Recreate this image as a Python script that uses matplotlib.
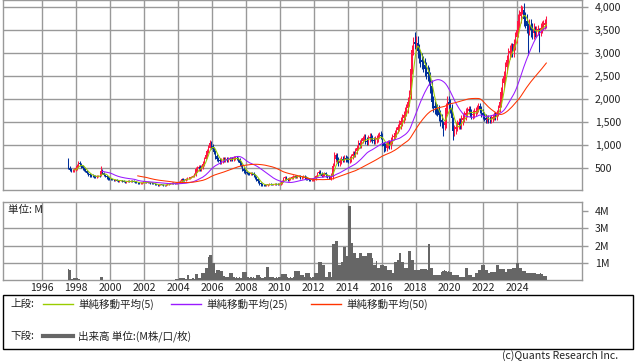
import numpy as np
import pandas as pd
import matplotlib
matplotlib.use('Agg')
import matplotlib.pyplot as plt
from matplotlib.patches import Rectangle
from matplotlib.lines import Line2D
from matplotlib.ticker import FixedLocator, FuncFormatter

plt.rcParams['font.family'] = ['Noto Sans CJK JP', 'DejaVu Sans']

# monthly data, Jul 1997 .. Sep 2025
start_month = '1997-07'
first_open = 690
closes = [
    510, 470, 440, 450, 470, 500,                                    # 1997 (Jul-)
    560, 620, 590, 540, 500, 470, 440, 400, 370, 350, 340, 330,      # 1998
    320, 310, 330, 340, 330, 450, 400, 360, 330, 300, 280, 270,      # 1999
    260, 250, 240, 250, 230, 220, 230, 240, 220, 210, 200, 210,      # 2000
    220, 210, 230, 220, 210, 200, 190, 180, 170, 180, 190, 200,      # 2001
    200, 190, 200, 190, 180, 170, 160, 150, 140, 135, 140, 145,      # 2002
    140, 135, 130, 140, 150, 160, 170, 180, 175, 170, 180, 190,      # 2003
    200, 220, 260, 250, 240, 270, 280, 290, 300, 320, 340, 380,      # 2004
    480, 500, 520, 490, 530, 600, 700, 780, 880, 950, 1050, 980,     # 2005
    920, 850, 760, 700, 680, 650, 670, 690, 680, 700, 680, 700,      # 2006
    690, 710, 700, 720, 730, 710, 680, 620, 560, 480, 440, 420,      # 2007
    400, 390, 380, 400, 380, 350, 300, 260, 220, 170, 150, 140,      # 2008
    135, 130, 140, 150, 160, 150, 145, 150, 160, 155, 150, 160,      # 2009
    180, 230, 280, 300, 260, 250, 280, 290, 300, 320, 330, 310,      # 2010
    330, 340, 300, 310, 320, 300, 280, 260, 250, 240, 250, 260,      # 2011
    280, 330, 400, 430, 380, 340, 360, 390, 350, 320, 300, 310,      # 2012
    330, 560, 700, 780, 680, 620, 660, 710, 690, 720, 700, 690,      # 2013
    680, 700, 760, 820, 800, 880, 950, 1050, 1000, 1100, 1150, 1180,  # 2014
    1100, 1080, 1150, 1190, 1160, 1120, 1100, 1130, 1150, 1200, 1230, 1200,  # 2015
    1050, 980, 950, 1020, 1050, 1000, 1100, 1180, 1200, 1260, 1330, 1400,    # 2016
    1450, 1520, 1590, 1650, 1730, 1800, 1950, 2100, 2650, 3070, 3250, 3200,  # 2017
    3220, 3050, 2930, 2850, 2800, 2750, 2650, 2600, 2550, 2450, 2280, 1950,  # 2018
    1850, 1800, 1780, 1760, 1650, 1550, 1500, 1450, 1500, 1800, 1950, 1900,  # 2019
    1800, 1600, 1300, 1350, 1400, 1450, 1500, 1450, 1550, 1600, 1650, 1700,  # 2020
    1750, 1780, 1700, 1650, 1680, 1720, 1750, 1800, 1850, 1780, 1700, 1650,  # 2021
    1600, 1550, 1580, 1560, 1550, 1580, 1620, 1650, 1620, 1700, 1800, 1950,  # 2022
    2150, 2350, 2500, 2700, 2850, 3000, 3050, 3100, 3050, 3200, 3350, 3500,  # 2023
    3700, 3800, 3900, 3950, 3750, 3700, 3600, 3550, 3600, 3500, 3450, 3500,  # 2024
    3450, 3500, 3520, 3480, 3550, 3600, 3620, 3650, 3700,                    # 2025 (-Sep)
]
# volume in millions
volumes = [
    0.66, 0.6, 0.08, 0.08, 0.12, 0.12,
    0.12, 0.1, 0.1, 0.02, 0.01, 0.01, 0.01, 0.01, 0.01, 0.01, 0.01, 0.01,
    0.01, 0.01, 0.01, 0.01, 0.01, 0.19, 0.19, 0.01, 0.01, 0.01, 0.01, 0.01,
    0.01, 0.01, 0.01, 0.01, 0.01, 0.01, 0.01, 0.01, 0.01, 0.01, 0.01, 0.01,
    0.01, 0.01, 0.01, 0.01, 0.01, 0.01, 0.01, 0.01, 0.01, 0.01, 0.01, 0.01,
    0.01, 0.01, 0.01, 0.01, 0.01, 0.01, 0.01, 0.01, 0.01, 0.01, 0.01, 0.01,
    0.01, 0.01, 0.01, 0.01, 0.01, 0.01, 0.01, 0.01, 0.01, 0.01, 0.05, 0.05,
    0.05, 0.13, 0.13, 0.13, 0.13, 0.1, 0.29, 0.29, 0.1, 0.1, 0.15, 0.1,
    0.37, 0.37, 0.12, 0.12, 0.4, 0.4, 0.4, 0.7, 0.7, 1.34, 1.47, 1.47,
    0.99, 0.99, 0.4, 0.6, 0.6, 0.6, 0.55, 0.55, 0.25, 0.2, 0.2, 0.2,
    0.45, 0.45, 0.45, 0.2, 0.15, 0.2, 0.15, 0.2, 0.15, 0.5, 0.5, 0.5,
    0.5, 0.2, 0.15, 0.2, 0.15, 0.2, 0.15, 0.3, 0.3, 0.3, 0.2, 0.15,
    0.15, 0.2, 0.75, 0.75, 0.2, 0.2, 0.2, 0.2, 0.15, 0.2, 0.15, 0.2,
    0.2, 0.37, 0.37, 0.37, 0.37, 0.2, 0.15, 0.2, 0.15, 0.2, 0.55, 0.55,
    0.55, 0.55, 0.3, 0.3, 0.3, 0.2, 0.4, 0.4, 0.4, 0.2, 0.15, 0.2,
    0.4, 0.4, 0.4, 1.05, 1.05, 1.05, 0.9, 0.9, 0.2, 0.2, 0.5, 0.5,
    0.2, 2.09, 2.09, 2.28, 2.28, 0.9, 0.9, 1.08, 1.08, 1.95, 1.95, 1.38,
    4.28, 4.28, 2.15, 2.15, 1.57, 1.57, 1.28, 1.28, 1.57, 1.57, 1.38, 1.38,
    1.38, 1.38, 1.57, 1.57, 1.57, 1.28, 0.9, 0.9, 1.12, 0.7, 0.7, 0.9,
    0.9, 0.9, 0.8, 0.8, 0.6, 0.6, 0.6, 0.4, 0.4, 1.08, 1.08, 1.18,
    1.57, 1.57, 1.08, 1.08, 0.7, 0.7, 0.7, 1.7, 1.7, 1.18, 1.18, 0.6,
    0.6, 0.6, 0.6, 0.66, 0.66, 0.66, 0.66, 0.66, 0.6, 2.1, 0.7, 0.7,
    0.3, 0.3, 0.3, 0.3, 0.3, 0.3, 0.5, 0.56, 0.6, 0.56, 0.5, 0.56,
    0.5, 0.5, 0.3, 0.3, 0.3, 0.3, 0.3, 0.2, 0.2, 0.2, 0.2, 0.7,
    0.7, 0.3, 0.3, 0.3, 0.2, 0.2, 0.4, 0.4, 0.6, 0.6, 0.86, 0.86,
    0.86, 0.6, 0.6, 0.4, 0.4, 0.5, 0.5, 0.5, 0.5, 0.9, 0.9, 0.66,
    0.66, 0.66, 0.66, 0.5, 0.5, 0.66, 0.66, 0.66, 0.7, 0.7, 0.7, 1.0,
    1.0, 0.7, 0.7, 0.55, 0.55, 0.55, 0.45, 0.45, 0.45, 0.4, 0.4, 0.4,
    0.4, 0.35, 0.35, 0.35, 0.4, 0.35, 0.25, 0.25, 0.25,
]
# typical shadow length beyond the candle body, per calendar year 1997..2025
shadow_by_year = [30, 30, 25, 15, 15, 12, 12, 20, 50, 50, 40, 30, 15, 25, 25,
                  30, 60, 60, 70, 70, 100, 150, 120, 100, 80, 70, 120, 150, 100]
# clearly visible long wicks: month -> (low, high)
wicks = {
    '1999-06': (330, 557),
    '2005-08': (700, 860),
    '2005-11': (950, 1115),
    '2013-03': (560, 860),
    '2015-11': (1150, 1296),
    '2016-02': (860, 1080),
    '2017-12': (3100, 3470),
    '2019-08': (1200, 1520),
    '2020-03': (1115, 1620),
    '2024-04': (3850, 4028),
    '2024-08': (2963, 3650),
    '2025-04': (3035, 3560),
}
year_ticks = list(range(1996, 2025, 2))
price_ticks = [500, 1000, 1500, 2000, 2500, 3000, 3500, 4000]
vol_ticks = [1, 2, 3, 4]
vol_grid = [1, 2, 3]

months = pd.period_range(start_month, periods=len(closes), freq='M')
t = np.asarray(months.year + (months.month - 0.5) / 12.0, dtype=float)
close = pd.Series(closes, dtype=float)
opens = np.array([first_open] + closes[:-1], dtype=float)
up = close.values >= opens
shadow = np.array([shadow_by_year[y - 1997] for y in months.year], dtype=float)
body_lo = np.minimum(opens, close.values)
body_hi = np.maximum(opens, close.values)
lows = body_lo - shadow
highs = body_hi + shadow
for key, (lo, hi) in wicks.items():
    i = months.get_loc(pd.Period(key, freq='M'))
    lows[i], highs[i] = lo, hi

RED = '#ff1744'
BLUE = '#00309a'
GRID = '#999999'
W, H = 638, 362
XLIM = (1993.70, 2027.83)
PRICE_LIM = (21.7, 4152)
VOL_LIM = (0, 4.54)

fig = plt.figure(figsize=(W / 100, H / 100), dpi=100)


def fig_rect(x0, y0, x1, y1):
    return [x0 / W, 1 - y1 / H, (x1 - x0) / W, (y1 - y0) / H]


ax = fig.add_axes(fig_rect(3.3, 0.3, 582.3, 190.3))
axv = fig.add_axes(fig_rect(3.3, 201.7, 582.3, 280.3))

# grid as line collections behind the data
ax.hlines(price_ticks, XLIM[0], XLIM[1], colors=GRID, linewidth=1.0, zorder=2)
ax.vlines(year_ticks, PRICE_LIM[0], PRICE_LIM[1], colors=GRID, linewidth=1.0, zorder=2)
axv.hlines(vol_grid, XLIM[0], XLIM[1], colors=GRID, linewidth=1.0, zorder=2)
axv.vlines(year_ticks, VOL_LIM[0], VOL_LIM[1], colors=GRID, linewidth=1.0, zorder=2)

# candles
colors = np.where(up, RED, BLUE).tolist()
ax.vlines(t, lows, highs, colors=colors, linewidth=0.75, zorder=3)
ax.bar(t, np.maximum(body_hi - body_lo, 10), bottom=body_lo, width=0.075,
       color=colors, linewidth=0, zorder=3)

# moving averages
ma_styles = [(5, '#99cc00'), (25, '#9a1aff'), (50, '#ff3300')]
for n, c in ma_styles:
    ax.plot(t, close.rolling(n).mean(), color=c, linewidth=0.75, zorder=4)

ax.set_ylim(*PRICE_LIM)
ax.yaxis.set_major_locator(FixedLocator(price_ticks))
ax.yaxis.set_major_formatter(FuncFormatter(lambda v, p: f'{v:,.0f}'))

# volume
axv.bar(t, volumes, width=1 / 12, color='#666666', linewidth=0, zorder=3)
axv.set_ylim(*VOL_LIM)
axv.yaxis.set_major_locator(FixedLocator(vol_ticks))
axv.yaxis.set_major_formatter(FuncFormatter(lambda v, p: f'{v:.0f}M'))
axv.text(0.008, 0.90, '単位: M', transform=axv.transAxes, fontsize=7.6,
         ha='left', va='center', color='#222222', zorder=5)

for a in (ax, axv):
    a.set_xlim(*XLIM)
    a.xaxis.set_major_locator(FixedLocator(year_ticks))
    a.xaxis.set_major_formatter(FuncFormatter(lambda v, p: f'{v:.0f}'))
    for s in a.spines.values():
        s.set_color(GRID)
        s.set_linewidth(1.0)
    a.yaxis.tick_right()
    a.tick_params(axis='y', length=4, width=1, color=GRID, pad=5,
                  labelsize=7.6, labelcolor='#222222')
    a.tick_params(axis='x', length=0, labelsize=7.6, labelcolor='#222222', pad=2)
    for lab in a.get_yticklabels():
        lab.set_horizontalalignment('left')
ax.tick_params(axis='x', labelbottom=False)

# legend box
fig.add_artist(Rectangle((3 / W, 1 - 349 / H), 630 / W, 54 / H,
                         transform=fig.transFigure, fill=False,
                         edgecolor='black', linewidth=1.0))


def px_line(x0, x1, y, color, lw):
    fig.add_artist(Line2D([x0 / W, x1 / W], [1 - y / H, 1 - y / H],
                          transform=fig.transFigure, color=color, linewidth=lw))


def px_text(x, y, s, **kw):
    fig.text(x / W, 1 - y / H, s, fontsize=7.6, va='center', color='#222222', **kw)


px_text(10, 304, '上段:')
leg_items = [(43, 73, 78, '#99cc00', '単純移動平均(5)'),
             (171, 201, 206, '#9a1aff', '単純移動平均(25)'),
             (311, 341, 346, '#ff3300', '単純移動平均(50)')]
for x0, x1, xt, c, s in leg_items:
    px_line(x0, x1, 304, c, 1.0)
    px_text(xt, 304, s)
px_text(10, 336, '下段:')
px_line(43, 73, 336, '#666666', 3.0)
px_text(78, 336, '出来高 単位:(M株/口/枚)')
px_text(618, 356, '(c)Quants Research Inc.', ha='right')

fig.savefig('out.png', dpi=100)
